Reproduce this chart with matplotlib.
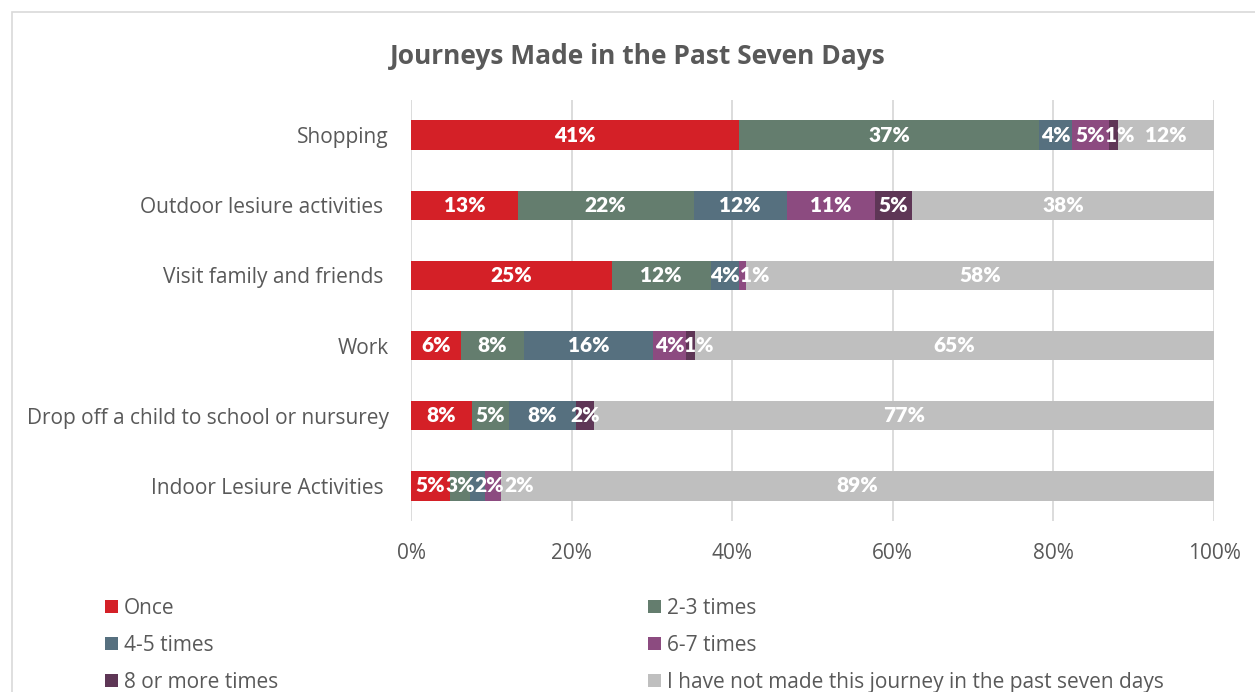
import matplotlib.pyplot as plt
from matplotlib.patches import Rectangle
import numpy as np

# journeys per category, share of respondents (%)
categories = ['Shopping', 'Outdoor lesiure activities ', 'Visit family and friends ',
              'Work', 'Drop off a child to school or nursurey', 'Indoor Lesiure Activities ']
series = ['Once', '2-3 times', '4-5 times', '6-7 times', '8 or more times',
          'I have not made this journey in the past seven days']
once = [40.9, 13.3, 25.0, 6.2, 7.6, 4.8]
two_three = [37.3, 21.9, 12.3, 7.9, 4.6, 2.6]
four_five = [4.1, 11.6, 3.6, 16.0, 8.3, 1.8]
six_seven = [4.6, 11.0, 0.8, 4.2, 0.0, 2.0]
eight_plus = [1.1, 4.6, 0.0, 1.1, 2.3, 0.0]
not_made = [12.0, 37.6, 58.3, 64.6, 77.2, 88.8]
colors = ['#D42027', '#647D6E', '#56707F', '#8C4B80', '#5E3656', '#BFBFBF']

plt.rcParams['font.family'] = ['Open Sans', 'DejaVu Sans']
text_col = '#595959'

fig = plt.figure(figsize=(12.55, 6.92), dpi=100)
ax = fig.add_axes([411 / 1255, 1 - 521 / 692, 803 / 1255, 421 / 692])

# chart border
fig.patches.append(Rectangle((12 / 1255, -0.1), 1.2, 1.1 - 12 / 692, transform=fig.transFigure,
                             fill=False, edgecolor='#D9D9D9', linewidth=1.2))

y = np.arange(len(categories))
left = np.zeros(len(categories))
handles = []
row_labels = [[] for _ in categories]
for name, vals, c in zip(series, [once, two_three, four_five, six_seven, eight_plus, not_made], colors):
    vals = np.array(vals)
    bars = ax.barh(y, vals, left=left, height=0.42, color=c, label=name, zorder=2)
    handles.append(bars)
    for yi, v, l in zip(y, vals, left):
        if v >= 0.5:
            t = ax.text(l + v / 2, yi, f'{v:.0f}%', ha='center', va='center', color='white',
                        fontsize=15, fontweight='heavy', family=['Lato', 'DejaVu Sans'], zorder=3)
            row_labels[yi].append(t)
    left += vals

ax.set_xlim(0, 100)
ax.set_ylim(5.5, -0.5)
ax.set_yticks(y)
ax.set_yticklabels(categories)
ax.set_xticks(np.arange(0, 101, 20))
ax.set_xticklabels([f'{t}%' for t in range(0, 101, 20)])
ax.tick_params(axis='both', length=0, labelsize=15, labelcolor=text_col)
ax.tick_params(axis='x', pad=16)
ax.tick_params(axis='y', pad=16)
ax.grid(axis='x', color='#D9D9D9', linewidth=1.3, zorder=0)
ax.set_axisbelow(True)
for s in ax.spines.values():
    s.set_visible(False)

fig.text(638 / 1255, 1 - 56 / 692, 'Journeys Made in the Past Seven Days', ha='center', va='center',
         fontsize=19, fontweight='bold', color=text_col)

# push crowded data labels to the right so they don't sit on top of each other
fig.canvas.draw()
r = fig.canvas.get_renderer()
inv = ax.transData.inverted()
for labels in row_labels:
    prev_right = None
    for t in labels:
        bb = t.get_window_extent(r)
        if prev_right is not None and bb.x0 < prev_right:
            shift = prev_right - bb.x0
            x0, _ = inv.transform((bb.x0, 0))
            x1, _ = inv.transform((bb.x0 + shift, 0))
            t.set_x(t.get_position()[0] + (x1 - x0))
            bb = t.get_window_extent(r)
        prev_right = bb.x1

# two legend columns, filled row by row like the original
leg_kw = dict(frameon=False, fontsize=15, labelcolor=text_col, handlelength=0.6,
              handleheight=0.6, handletextpad=0.3, labelspacing=0.76, borderpad=0,
              borderaxespad=0)
fig.legend([handles[0], handles[2], handles[4]], [series[0], series[2], series[4]],
           loc='upper left', bbox_to_anchor=(105 / 1255, 1 - 598 / 692), **leg_kw)
fig.legend([handles[1], handles[3], handles[5]], [series[1], series[3], series[5]],
           loc='upper left', bbox_to_anchor=(648 / 1255, 1 - 598 / 692), **leg_kw)

fig.savefig('out.png', dpi=100)
